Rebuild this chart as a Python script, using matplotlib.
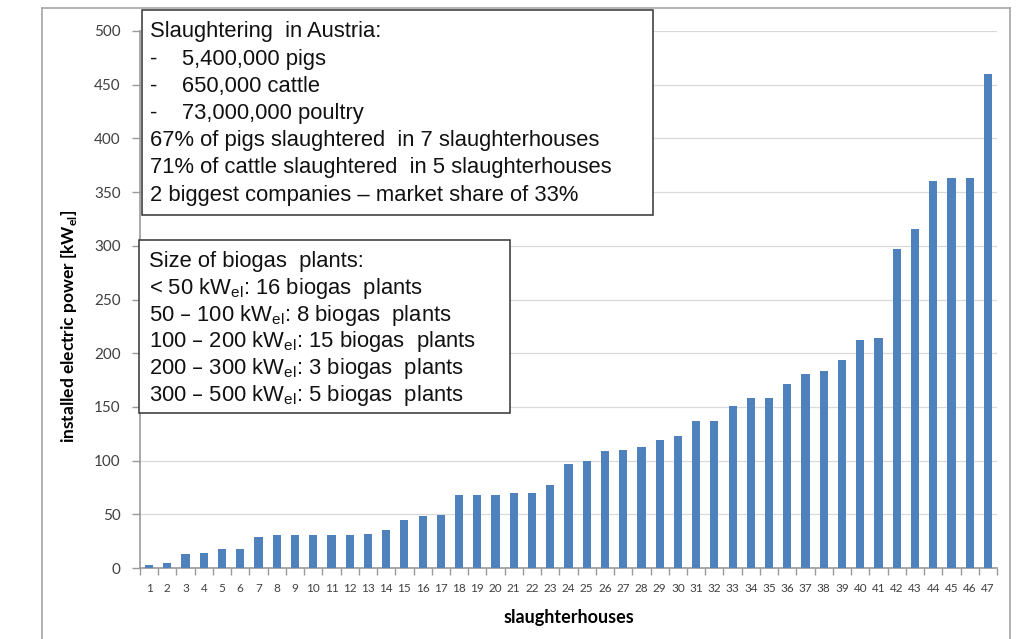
import numpy as np
import matplotlib.pyplot as plt
from matplotlib.patches import Rectangle
from matplotlib.lines import Line2D

# installed electric power per slaughterhouse [kW_el]
houses = list(range(1, 48))
power = [3, 5, 13, 14, 18, 18, 29, 31, 31, 31, 31, 31, 32, 35, 45, 48, 49,
         68, 68, 68, 70, 70, 77, 97, 100, 109, 110, 113, 119, 123, 137, 137,
         151, 158, 158, 171, 181, 183, 194, 212, 214, 297, 316, 360, 363, 363, 460]

info_lines = ["Slaughtering  in Austria:",
              "-    5,400,000 pigs",
              "-    650,000 cattle",
              "-    73,000,000 poultry",
              "67% of pigs slaughtered  in 7 slaughterhouses",
              "71% of cattle slaughtered  in 5 slaughterhouses",
              "2 biggest companies \u2013 market share of 33%"]
size_lines = ["Size of biogas  plants:",
              "< 50 kW$_\\mathregular{el}$: 16 biogas  plants",
              "50 \u2013 100 kW$_\\mathregular{el}$: 8 biogas  plants",
              "100 \u2013 200 kW$_\\mathregular{el}$: 15 biogas  plants",
              "200 \u2013 300 kW$_\\mathregular{el}$: 3 biogas  plants",
              "300 \u2013 500 kW$_\\mathregular{el}$: 5 biogas  plants"]

W, H = 1023, 639
fig = plt.figure(figsize=(W / 100, H / 100), dpi=100)
ax = fig.add_axes([140 / W, 1 - 568 / H, 857 / W, 537 / H])


def fx(px):
    return px / W


def fy(py):
    return 1 - py / H


ax.bar(houses, power, width=0.45, color='#4f81bd', zorder=3)
ax.set_xlim(0.5, 47.5)
ax.set_ylim(0, 500)
ax.set_yticks(range(0, 501, 50))
ax.set_xticks(houses)
ax.set_xticks(np.arange(0.5, 48, 1), minor=True)
ax.yaxis.grid(True, color='#d9d9d9', lw=0.9, zorder=0)

for s in ['top', 'right']:
    ax.spines[s].set_visible(False)
for s in ['left', 'bottom']:
    ax.spines[s].set_color('#999999')
    ax.spines[s].set_linewidth(1.2)

ax.tick_params(axis='y', colors='#999999', labelcolor='#404040', labelsize=11,
               length=6, width=1, pad=8)
ax.tick_params(axis='x', which='major', length=0, labelsize=8.5,
               labelcolor='#404040', pad=11)
ax.tick_params(axis='x', which='minor', length=5, color='#999999', width=1)
for lab in ax.get_xticklabels() + ax.get_yticklabels():
    lab.set_family('Lato')

ax.set_ylabel('installed electric power [kW$_\\mathregular{el}$]', fontsize=12.5,
              fontweight='bold', family='Lato')
ax.yaxis.set_label_coords(-0.071, 0.45)
ax.set_xlabel('slaughterhouses', fontsize=13, fontweight='bold', family='Lato')
ax.xaxis.set_label_coords(0.5, -0.077)

# outer frame
for xs, ys in [([42, 42], [8, 700]), ([42, 1010], [8, 8]), ([1010, 1010], [8, 700])]:
    fig.add_artist(Line2D([fx(v) for v in xs], [fy(v) for v in ys],
                          color='#a6a6a6', lw=1.2))

# text boxes
fig.add_artist(Rectangle((fx(142), fy(215)), fx(653) - fx(142), fy(10) - fy(215),
                         facecolor='white', edgecolor='#333333', lw=1.1, zorder=5))
for i, line in enumerate(info_lines):
    fig.text(fx(150), fy(32 + i * 27.2), line, fontsize=15.8, family='Liberation Sans',
             va='center', ha='left', color='#111111', zorder=6)

fig.add_artist(Rectangle((fx(139), fy(413)), fx(510) - fx(139), fy(240) - fy(413),
                         facecolor='white', edgecolor='#333333', lw=1.1, zorder=5))
for i, line in enumerate(size_lines):
    fig.text(fx(149), fy(262 + i * 26.6), line, fontsize=15.8, family='Liberation Sans',
             va='center', ha='left', color='#111111', zorder=6)

fig.savefig('out.png', dpi=100)
